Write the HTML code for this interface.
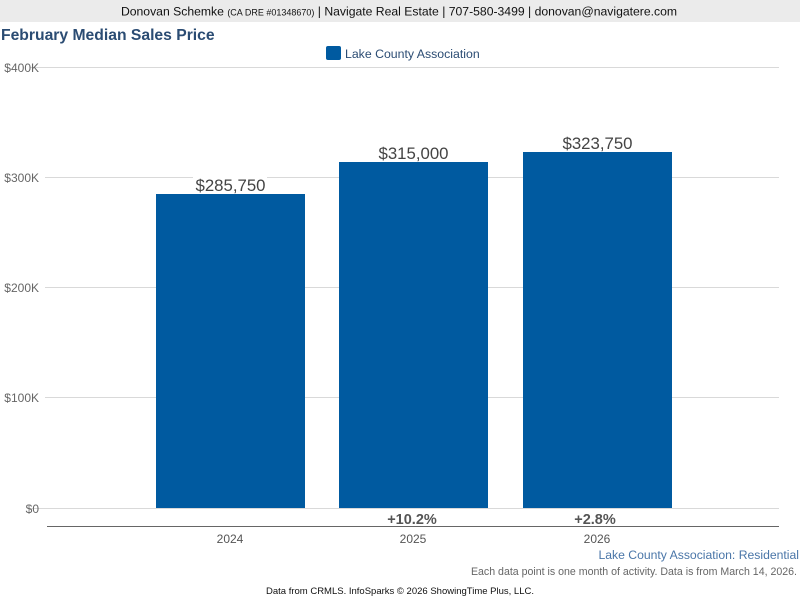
<!DOCTYPE html>
<html><head><meta charset="utf-8"><style>
html,body{margin:0;padding:0;width:800px;height:600px;background:#fff;overflow:hidden;font-family:"Liberation Sans",Arial,sans-serif}
</style></head><body>
<svg width="800" height="600" xmlns="http://www.w3.org/2000/svg" style="display:block;font-family:'Liberation Sans',Arial,sans-serif">
<rect x="0" y="0" width="800" height="22" fill="#ebebeb"/>
<text x="399" y="15.5" text-anchor="middle" font-size="12.2" fill="#111">Donovan Schemke <tspan font-size="9">(CA DRE #01348670)</tspan> | Navigate Real Estate | 707-580-3499 | donovan@navigatere.com</text>
<text x="1" y="40" font-size="15.7" font-weight="bold" fill="#2b4c73">February Median Sales Price</text>
<rect x="326" y="46" width="15" height="14" rx="2" fill="#005aa0"/>
<text x="345" y="58" font-size="12.3" fill="#2b4c73">Lake County Association</text>
<g stroke="#d9d9d9" stroke-width="1">
<line x1="30" y1="67.5" x2="779" y2="67.5"/>
<line x1="45" y1="177.5" x2="779" y2="177.5"/>
<line x1="45" y1="287.5" x2="779" y2="287.5"/>
<line x1="45" y1="397.5" x2="779" y2="397.5"/>
<line x1="30" y1="508.5" x2="779" y2="508.5"/>
</g>
<g font-size="12" fill="#666" text-anchor="end">
<text x="39" y="72">$400K</text>
<text x="39" y="182">$300K</text>
<text x="39" y="292">$200K</text>
<text x="39" y="402">$100K</text>
<text x="39" y="513">$0</text>
</g>
<rect x="156" y="194" width="149" height="314" fill="#005aa0"/>
<rect x="339" y="162" width="149" height="346" fill="#005aa0"/>
<rect x="523" y="152" width="149" height="356" fill="#005aa0"/>
<rect x="193" y="176" width="74" height="4" fill="#fff"/>
<g font-size="16.8" fill="#444" text-anchor="middle">
<text x="230.5" y="191">$285,750</text>
<text x="413.5" y="159">$315,000</text>
<text x="597.5" y="149">$323,750</text>
</g>
<line x1="47" y1="526.5" x2="779" y2="526.5" stroke="#666" stroke-width="1"/>
<g font-size="14.5" font-weight="bold" fill="#555" text-anchor="middle">
<text x="412" y="524">+10.2%</text>
<text x="595" y="524">+2.8%</text>
</g>
<g font-size="12" fill="#555" text-anchor="middle">
<text x="230" y="543">2024</text>
<text x="413" y="543">2025</text>
<text x="597" y="543">2026</text>
</g>
<text x="799" y="559" text-anchor="end" font-size="12.2" fill="#4a76a8">Lake County Association: Residential</text>
<text x="797" y="575" text-anchor="end" font-size="10.6" fill="#666">Each data point is one month of activity. Data is from March 14, 2026.</text>
<text x="400" y="594" text-anchor="middle" font-size="9.5" fill="#111">Data from CRMLS. InfoSparks © 2026 ShowingTime Plus, LLC.</text>
</svg>
</body></html>
